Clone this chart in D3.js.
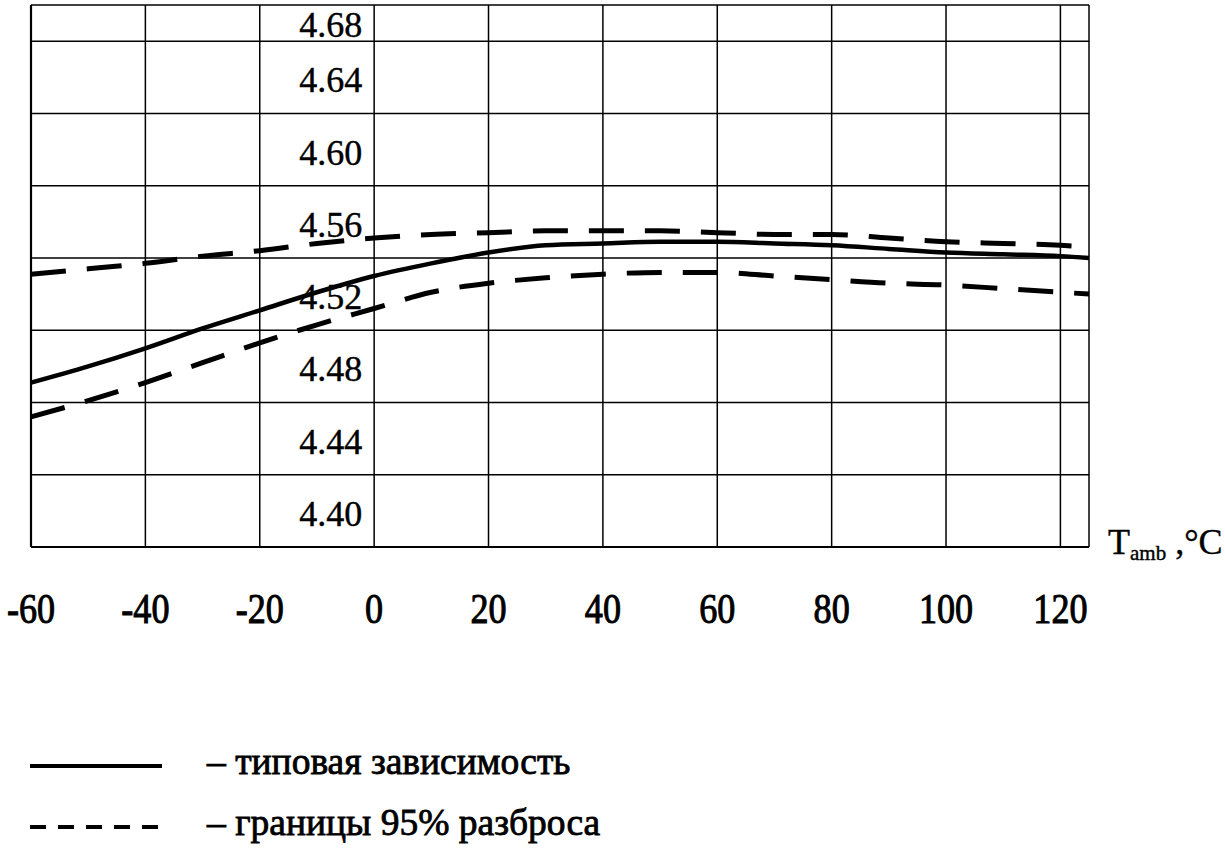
<!DOCTYPE html>
<html>
<head>
<meta charset="utf-8">
<script src="https://cdn.jsdelivr.net/npm/d3@7"></script>
<style>
  html, body { margin: 0; padding: 0; background: #fff; }
  svg { display: block; }
</style>
</head>
<body>
<svg id="chart" width="1225" height="857" font-family="'Liberation Serif', 'DejaVu Serif', serif"></svg>
<script>
// Ambient temperature, °C
const temps = [-60, -50, -40, -30, -20, -10, 0, 10, 20, 30, 40, 50, 60, 70, 80, 90, 100, 110, 120, 125];
// Typical dependence
const typical = [4.491, 4.500, 4.510, 4.521, 4.531, 4.541, 4.550, 4.557, 4.563, 4.567, 4.568, 4.569, 4.569, 4.568, 4.567, 4.565, 4.563, 4.562, 4.561, 4.560];
// 95% spread bounds
const upper = [4.551, 4.554, 4.557, 4.561, 4.564, 4.568, 4.571, 4.573, 4.574, 4.575, 4.575, 4.575, 4.574, 4.573, 4.573, 4.571, 4.569, 4.568, 4.567, 4.566];
const lower = [4.472, 4.481, 4.491, 4.502, 4.513, 4.523, 4.532, 4.541, 4.546, 4.549, 4.551, 4.552, 4.552, 4.550, 4.548, 4.546, 4.545, 4.543, 4.541, 4.540];

const xTicks = [-60, -40, -20, 0, 20, 40, 60, 80, 100, 120];
const yTicks = [4.40, 4.44, 4.48, 4.52, 4.56, 4.60, 4.64, 4.68];
const xDomain = [-60, 125];
const yDomain = [4.40, 4.70];
const legendLabels = ["– типовая зависимость", "– границы 95% разброса"];

const svg = d3.select("#chart");
const x = d3.scaleLinear().domain(xDomain).range([31, 1089]);
const y = d3.scaleLinear().domain(yDomain).range([547, 5]);

// Grid
const grid = svg.append("g").attr("stroke", "#000").attr("fill", "none");
grid.selectAll("line.v").data(xTicks.concat([xDomain[1]])).join("line")
  .attr("class", "v")
  .attr("x1", d => x(d)).attr("x2", d => x(d))
  .attr("y1", y(yDomain[0])).attr("y2", y(yDomain[1]))
  .attr("stroke-width", (d, i) => i === 0 ? 2.2 : 1.5);
grid.selectAll("line.h").data(yTicks.concat([yDomain[1]])).join("line")
  .attr("class", "h")
  .attr("x1", x(xDomain[0])).attr("x2", x(xDomain[1]))
  .attr("y1", d => y(d)).attr("y2", d => y(d))
  .attr("stroke-width", (d, i) => i === 0 ? 2 : 1.5);

// Y tick labels, sitting just above their gridline left of the 0 °C line
const fmt = d3.format(".2f");
svg.append("g").selectAll("text").data(yTicks).join("text")
  .attr("x", x(0) - 12)
  .attr("y", d => Math.max(y(d) - 21, y(yDomain[1]) + 32))
  .attr("text-anchor", "end")
  .attr("font-size", 36)
  .attr("stroke", "#000").attr("stroke-width", 0.4)
  .text(d => fmt(d));

// X tick labels
svg.append("g").selectAll("text").data(xTicks).join("text")
  .attr("transform", d => `translate(${x(d)},623) scale(0.86,1)`)
  .attr("text-anchor", "middle")
  .attr("font-size", 42)
  .attr("stroke", "#000").attr("stroke-width", 1)
  .text(d => d);

// Axis title
const title = svg.append("text").attr("x", 1108).attr("y", 554).attr("font-size", 36)
  .attr("stroke", "#000").attr("stroke-width", 0.4);
title.append("tspan").text("T");
title.append("tspan").attr("font-size", 21).attr("dy", 6).text("amb");
title.append("tspan").attr("dy", -6).text(" ,°C");

// Curves
const line = d3.line()
  .x((d, i) => x(temps[i]))
  .y(d => y(d))
  .curve(d3.curveMonotoneX);

const curves = svg.append("g").attr("fill", "none").attr("stroke", "#000");
curves.append("path").attr("d", line(upper))
  .attr("stroke-width", 5).attr("stroke-dasharray", "35,21");
curves.append("path").attr("d", line(lower))
  .attr("stroke-width", 5).attr("stroke-dasharray", "35,21");
curves.append("path").attr("d", line(typical))
  .attr("stroke-width", 4.5);

// Legend
const legend = svg.append("g");
const legendY = [766, 827];
legend.append("line")
  .attr("x1", 30).attr("x2", 162).attr("y1", legendY[0]).attr("y2", legendY[0])
  .attr("stroke", "#000").attr("stroke-width", 4);
legend.append("line")
  .attr("x1", 30).attr("x2", 162).attr("y1", legendY[1]).attr("y2", legendY[1])
  .attr("stroke", "#000").attr("stroke-width", 4).attr("stroke-dasharray", "16,12");
legend.selectAll("text").data(legendLabels).join("text")
  .attr("x", 207)
  .attr("y", (d, i) => legendY[i] + 8)
  .attr("font-size", 37.5)
  .attr("stroke", "#000").attr("stroke-width", 0.8)
  .text(d => d);
</script>
</body>
</html>
